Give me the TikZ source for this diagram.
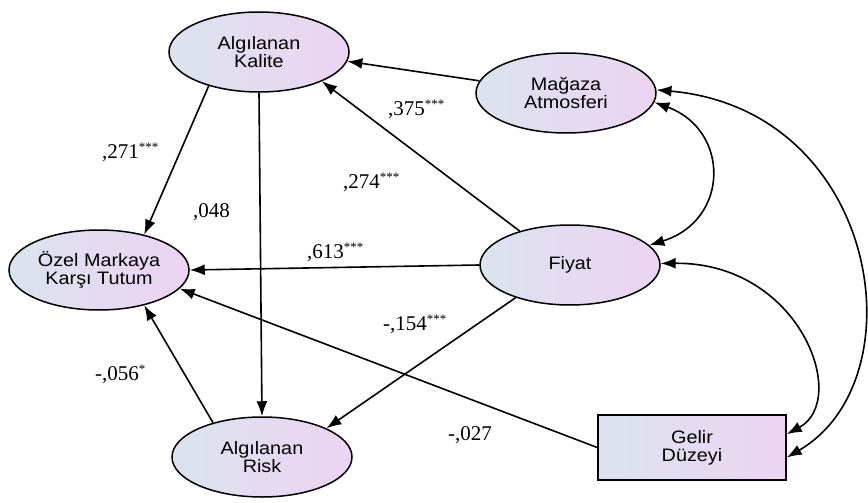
\documentclass[tikz,border=0pt]{standalone}
\usepackage{fontspec}
\usetikzlibrary{arrows.meta,shapes.geometric}
\newfontfamily\nodefont[FakeStretch=1.1]{Liberation Sans}
\newfontfamily\labelfont{Liberation Serif}
\definecolor{nodeL}{RGB}{220,227,238}
\definecolor{nodeR}{RGB}{236,212,242}
\newcommand\sigstars[1]{\raisebox{6.5pt}{\fontsize{13}{13}\selectfont #1}}
\tikzset{
  latent/.style={ellipse,draw=black,line width=1.5pt,left color=nodeL,right color=nodeR,
    minimum width=180pt,minimum height=80pt,inner sep=0pt,align=center,
    font=\nodefont\fontsize{18}{18}\selectfont},
  observed/.style={rectangle,draw=black,line width=1.5pt,left color=nodeL,right color=nodeR,
    minimum width=188pt,minimum height=65pt,inner sep=0pt,align=center,
    font=\nodefont\fontsize{18}{18}\selectfont},
  path/.style={line width=1.6pt,-{Latex[length=15pt,width=11pt]}},
  cov/.style={line width=1.6pt,{Latex[length=15pt,width=11pt]}-{Latex[length=15pt,width=11pt]}},
  lbl/.style={anchor=base west,inner sep=0pt,font=\labelfont\fontsize{21}{21}\selectfont}
}
\begin{document}
\begin{tikzpicture}[x=1pt,y=-1pt]
\path[use as bounding box] (0,0) rectangle (868,503);
\node[latent] (kal) at (259,52) {Algılanan\\Kalite};
\node[latent] (mag) at (566,93) {Mağaza\\Atmosferi};
\node[latent] (oz) at (99,270) {Özel Markaya\\Karşı Tutum};
\node[latent] (fiy) at (570,265) {Fiyat};
\node[latent] (risk) at (262,457) {Algılanan\\Risk};
\node[observed] (gel) at (692,447.5) {Gelir\\Düzeyi};

\draw[path] (mag.172) -- (kal.354);
\draw[path] (fiy.146) -- (kal.335);
\draw[path] (kal.214) -- (oz.38);
\draw[path] (kal.south) -- (risk.north);
\draw[path] (fiy.180) -- (oz.0);
\draw[path] (fiy.211) -- (risk.24);
\draw[path] (risk.145) -- (oz.322);
\draw[path] (gel.west) -- (oz.347);

\draw[cov] (mag.354) .. controls (730,130) and (730,220) .. (fiy.14);
\draw[cov] (mag.2) .. controls (880,110) and (920,380) .. (gel.-6);
\draw[cov] (fiy.1) .. controls (800,262) and (850,400) .. (gel.8);

\node[lbl] (l1) at (388,115) {,375\sigstars{***}};
\node[lbl] (l2) at (343,188) {,274\sigstars{***}};
\node[lbl] (l3) at (307,258) {,613\sigstars{***}};
\node[lbl] (l4) at (102,158) {,271\sigstars{***}};
\node[lbl] (l5) at (193,217) {,048};
\node[lbl] (l6) at (95,380) {-,056\sigstars{*}};
\node[lbl] (l7) at (383,330) {-,154\sigstars{***}};
\node[lbl] (l8) at (448,440) {-,027};
\end{tikzpicture}
\end{document}
